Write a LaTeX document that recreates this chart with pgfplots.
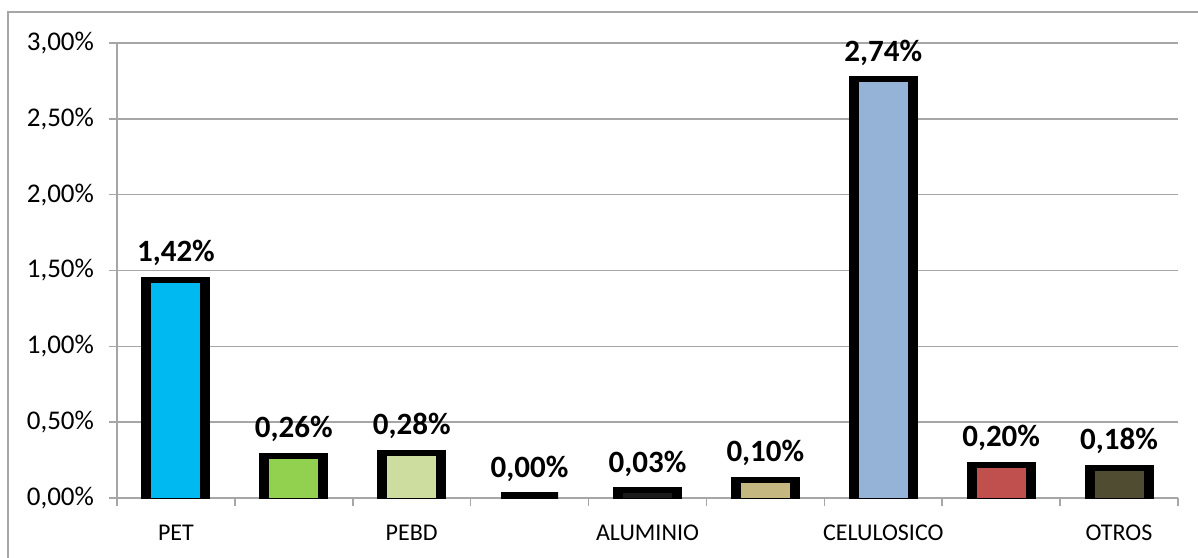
\documentclass[border=0pt]{standalone}
\usepackage{pgfplots}
\usepackage{pgfplotstable}
\pgfplotsset{compat=1.18}
\usepackage{fontspec}
\setmainfont{Carlito}

\definecolor{gridgray}{RGB}{166,166,166}
\definecolor{cPET}{RGB}{0,185,240}
\definecolor{cGreen}{RGB}{146,208,80}
\definecolor{cPEBD}{RGB}{205,221,160}
\definecolor{cAlu}{RGB}{26,26,26}
\definecolor{cTan}{RGB}{196,184,128}
\definecolor{cCel}{RGB}{149,179,215}
\definecolor{cRed}{RGB}{192,80,77}
\definecolor{cOlive}{RGB}{80,76,50}

% share of each material (percent)
\pgfplotstableread{
x  y
0  1.42
1  0.26
2  0.28
3  0.00
4  0.03
5  0.10
6  2.74
7  0.20
8  0.18
}\datatable

\begin{document}
\begin{tikzpicture}
  \useasboundingbox (-58.5pt,-29.5pt) rectangle (540.5pt,249pt);
  % outer chart frame (cut off at right and bottom)
  \draw[gridgray, line width=0.8pt] (-54.5pt,-40pt) -- (-54.5pt,243pt) -- (560pt,243pt);
  \begin{axis}[
    scale only axis,
    width=530.5pt, height=227.5pt,
    xmin=-0.5, xmax=8.5, ymin=0, ymax=3,
    ybar,
    axis x line*=bottom, axis y line*=left,
    axis line style={gridgray, line width=0.8pt},
    ymajorgrids, grid style={gridgray, line width=0.8pt},
    tick align=outside,
    xtick={0,...,8},
    xticklabels={PET,,PEBD,,ALUMINIO,,CELULOSICO,,OTROS},
    major x tick style={draw=none},
    minor xtick={-0.5,0.5,...,8.5},
    minor tick length=4pt,
    minor x tick style={gridgray, line width=0.8pt},
    ytick={0,0.5,...,3},
    major tick length=4pt,
    major y tick style={gridgray, line width=0.8pt},
    /pgf/number format/assume math mode=true,
    yticklabel={\pgfmathprintnumber[fixed,fixed zerofill,precision=2,use comma]{\tick}\%},
    yticklabel style={font=\fontsize{13.5}{16}\selectfont, xshift=-4pt},
    xticklabel style={font=\fontsize{12}{14}\selectfont, yshift=-6pt},
    every axis plot/.append style={bar shift=0pt},
    every node near coord/.append style={font=\fontsize{15.5}{18}\bfseries, anchor=base, yshift=10.5pt, black},
  ]
  % black frames behind the bars
  \addplot[fill=black, draw=black, line width=6pt, bar width=28.5pt] table[x=x, y=y] {\datatable};
  % coloured bars
  \pgfplotsset{every axis plot/.append style={draw=none, bar width=24.5pt,
    nodes near coords={\pgfmathprintnumber[fixed,fixed zerofill,precision=2,use comma]{\pgfplotspointmeta}\%}}}
  \addplot[fill=cPET] coordinates {(0,1.42)};
  \addplot[fill=cGreen] coordinates {(1,0.26)};
  \addplot[fill=cPEBD] coordinates {(2,0.28)};
  \addplot[fill=black] coordinates {(3,0.00)};
  \addplot[fill=cAlu] coordinates {(4,0.03)};
  \addplot[fill=cTan] coordinates {(5,0.10)};
  \addplot[fill=cCel] coordinates {(6,2.74)};
  \addplot[fill=cRed] coordinates {(7,0.20)};
  \addplot[fill=cOlive] coordinates {(8,0.18)};
  \end{axis}
\end{tikzpicture}
\end{document}
